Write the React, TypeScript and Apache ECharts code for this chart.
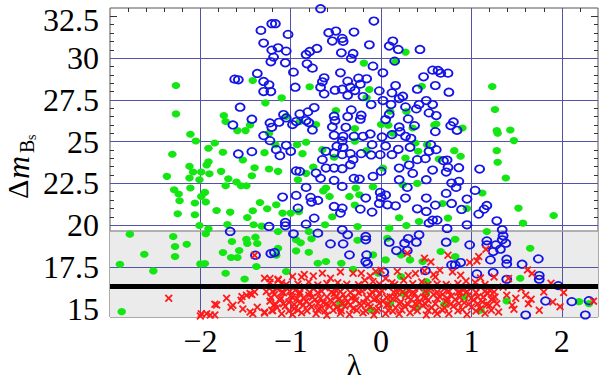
import React, { useEffect, useRef } from "react";
import * as echarts from "echarts";

// ---------- data ----------
const X_MIN = -3;
const X_MAX = 2.4;
const Y_MIN = 14.5;
const Y_MAX = 33;

const X_LABELS = [-2, -1, 0, 1, 2];
const X_MINOR = [-2.8, -2.6, -2.4, -2.2, -2, -1.8, -1.6, -1.4, -1.2, -1, -0.8, -0.6, -0.4, -0.2, 0, 0.2, 0.4, 0.6, 0.8, 1, 1.2, 1.4, 1.6, 1.8, 2, 2.2];
const Y_LABELS = [15, 17.5, 20, 22.5, 25, 27.5, 30, 32.5];
const Y_MINOR = [15, 15.5, 16, 16.5, 17, 17.5, 18, 18.5, 19, 19.5, 20, 20.5, 21, 21.5, 22, 22.5, 23, 23.5, 24, 24.5, 25, 25.5, 26, 26.5, 27, 27.5, 28, 28.5, 29, 29.5, 30, 30.5, 31, 31.5, 32, 32.5];
const X_GRID = [-2, -1, 0, 1, 2];
const Y_GRID = [17.5, 20, 22.5, 25, 27.5, 30];
const BAND = [14.5, 19.65];
const LIMIT = 16.32;

const GREEN: [number, number][] = [
  [-2.27, 28.36], [-2.27, 26.66], [-2.11, 25.44], [-2.05, 25.04], [-2.31, 24.24], [-1.91, 24.6], [-1.84, 24.92],
  [-1.75, 24.36], [-1.91, 23.8], [-1.74, 26.56], [-1.72, 26.2], [-1.59, 25.66], [-1.5, 25.66], [-1.45, 26.0],
  [-1.42, 28.66], [-1.28, 27.32], [-1.29, 24.34], [-1.53, 23.9], [-1.24, 25.5],
  [0.27, 30.36], [-0.19, 29.7], [0.16, 29.78], [-0.79, 28.28], [-1.1, 27.62], [-0.13, 28.12], [-0.16, 27.62],
  [0.45, 28.32], [-0.5, 26.86], [-1.05, 26.5], [-0.72, 26.02], [-0.9, 26.2], [-0.29, 25.78], [0.0, 26.02],
  [0.08, 25.98], [0.1, 26.82], [0.28, 26.8], [0.35, 25.82], [0.59, 26.0], [0.13, 25.5], [-0.29, 25.02],
  [-0.16, 24.46], [-0.52, 24.06], [-0.65, 24.52], [-0.87, 24.28], [-0.93, 24.82], [-0.83, 24.96], [-1.17, 24.82],
  [0.51, 24.82], [0.38, 24.92], [0.41, 24.42], [0.27, 24.02],
  [1.23, 28.3], [1.26, 26.92], [1.28, 25.66], [1.29, 25.5], [1.43, 25.7], [1.47, 25.06], [1.28, 24.46],
  [1.29, 23.76], [0.9, 25.82], [0.61, 26.06], [0.81, 24.46], [0.88, 24.12], [0.64, 23.96],
  [-2.12, 23.52], [-1.93, 23.6], [-2.37, 22.92], [-2.08, 23.18], [-1.99, 23.18], [-1.9, 23.08], [-1.77, 23.22],
  [-2.12, 22.82], [-2.01, 22.72], [-1.69, 22.78], [-1.72, 22.36], [-1.6, 22.58], [-1.55, 22.36], [-1.49, 22.36],
  [-1.43, 22.96], [-1.4, 23.44], [-1.24, 23.36], [-2.29, 22.12], [-2.24, 21.86], [-2.11, 22.22], [-1.95, 21.96],
  [-1.99, 21.72], [-2.23, 21.46], [-2.06, 21.32], [-1.94, 21.38], [-2.25, 20.68], [-2.06, 20.62], [-1.82, 20.88],
  [-1.67, 20.78], [-1.48, 20.46], [-1.42, 20.86], [-1.34, 21.36], [-1.26, 20.98], [-2.01, 19.98], [-1.91, 19.78],
  [-1.94, 19.48], [-1.7, 20.04], [-1.41, 20.02], [-1.32, 19.94], [-2.78, 19.46], [-2.3, 19.32], [-2.28, 18.72],
  [-2.15, 18.86], [-2.62, 18.26], [-2.28, 18.12], [-2.89, 17.66], [-2.52, 17.26], [-2.0, 17.68], [-1.95, 17.7],
  [-1.65, 19.02], [-1.49, 19.16], [-1.39, 19.28], [-1.37, 18.9], [-1.57, 18.48], [-1.48, 18.9], [-1.75, 18.36],
  [-1.66, 18.06], [-1.59, 18.06], [-1.38, 17.52], [-1.72, 17.12], [-1.51, 16.78], [-2.87, 14.82],
  [-1.14, 23.22], [-0.83, 23.1], [-0.92, 22.72], [-0.75, 23.48], [-0.61, 22.22], [-0.64, 22.05], [-0.28, 22.22],
  [-0.09, 22.3], [0.02, 23.42], [0.24, 22.42], [0.4, 22.5], [-1.16, 21.22], [-1.09, 20.72], [-1.0, 20.72],
  [-0.91, 20.8], [-0.57, 21.72], [-0.35, 21.72], [-0.24, 21.82], [-0.29, 21.2], [-0.62, 20.02], [-0.54, 20.5],
  [0.09, 19.82], [0.2, 20.44], [0.28, 19.98], [0.42, 20.22], [-0.26, 19.92], [-1.14, 19.62], [-0.94, 19.12],
  [-0.89, 18.94], [-0.8, 19.62], [-0.77, 19.18], [-1.14, 18.62], [-0.94, 18.46], [-0.8, 18.38], [-0.7, 17.72],
  [-0.61, 17.82], [-0.44, 17.72], [-0.26, 19.1], [-0.09, 18.22], [0.05, 17.92], [0.07, 19.22], [0.22, 18.22],
  [0.32, 17.92], [0.46, 17.82], [-1.05, 17.22], [-0.31, 17.36], [-0.03, 17.12], [0.22, 16.92], [0.5, 16.62],
  [-1.16, 18.2],
  [1.38, 22.82], [1.12, 21.92], [1.52, 21.02], [1.57, 20.12], [1.91, 20.58], [1.17, 19.62], [1.65, 18.62],
  [0.82, 19.16], [0.74, 20.42], [0.95, 21.0], [0.68, 21.3], [0.66, 18.42], [0.82, 18.12], [1.54, 16.82],
  [1.1, 14.9], [1.39, 15.46], [2.19, 15.42], [2.3, 15.3],
  [0.1, 15.3], [0.25, 15.9], [0.4, 15.05], [0.5, 16.0], [0.7, 15.25], [0.92, 15.7], [-0.45, 15.3], [-0.1, 14.9]
];

const BLUE: [number, number][] = [
  [-1.33, 31.66], [-1.3, 30.9], [-1.21, 32.06], [-1.21, 30.48], [-1.22, 29.78], [-1.37, 29.08], [-1.62, 28.74],
  [-1.58, 28.7], [-1.3, 28.6], [-1.24, 28.4], [-1.3, 28.0], [-1.22, 28.0], [-1.56, 27.06], [-1.43, 26.34],
  [-1.64, 26.0], [-1.23, 26.12], [-1.21, 25.86], [-1.3, 25.36], [-1.23, 25.06], [-1.58, 24.26], [-1.43, 24.4],
  [-0.67, 32.96], [-1.17, 32.06], [-1.03, 31.42], [-1.14, 30.62], [-1.05, 30.42], [-1.19, 30.06], [-1.06, 29.72],
  [-0.83, 30.22], [-0.79, 30.4], [-0.71, 30.58], [-0.82, 29.66], [-0.76, 29.4], [-0.97, 29.16], [-0.58, 31.52],
  [-0.54, 31.02], [-0.5, 31.62], [-0.43, 31.18], [-0.42, 31.0], [-0.3, 31.56], [-0.44, 30.32], [-0.31, 30.28],
  [-0.33, 29.98], [-0.13, 30.8], [-0.08, 32.22], [0.13, 31.02], [0.09, 30.72], [0.19, 30.52], [0.43, 30.52],
  [0.15, 29.82], [-0.09, 29.52], [0.02, 29.12], [-0.45, 29.12], [-0.63, 28.82], [-0.65, 28.58], [-0.67, 28.26],
  [-0.63, 27.86], [-0.51, 28.08], [-0.43, 28.14], [-0.37, 28.62], [-0.34, 28.26], [-0.37, 27.78], [-0.25, 28.8],
  [-0.16, 28.76], [-0.23, 28.44], [-0.29, 28.06], [-0.2, 27.7], [-0.95, 28.26], [-0.02, 28.04], [0.02, 27.46],
  [-0.11, 27.22], [0.12, 27.92], [0.16, 28.36], [0.2, 27.58], [0.24, 27.72], [0.11, 27.22], [0.27, 27.08],
  [0.4, 28.14], [0.47, 28.88], [0.57, 29.28], [0.5, 27.46], [0.42, 27.22], [0.57, 27.22], [0.53, 26.72],
  [0.39, 26.96], [0.3, 26.36], [0.09, 26.64], [0.05, 26.32], [-0.33, 26.9], [-0.22, 26.58], [-0.23, 26.34],
  [-0.37, 26.5], [-0.52, 26.52], [-0.51, 26.26], [-0.74, 27.04], [-0.81, 26.78], [-0.9, 26.66], [-0.83, 26.26],
  [-0.8, 26.14], [-1.08, 26.62], [-1.05, 26.42], [-1.13, 26.16], [-0.98, 26.02], [-0.94, 26.2], [-0.76, 25.7],
  [-0.54, 25.88], [-0.39, 25.86], [-0.52, 25.38], [-0.42, 25.32], [-0.43, 25.04], [-0.3, 25.32], [-0.2, 25.32],
  [-0.12, 25.46], [-0.1, 24.82], [0.01, 25.28], [0.12, 25.42], [0.2, 25.88], [0.21, 25.6], [0.27, 25.32],
  [0.33, 25.2], [0.37, 25.96], [0.32, 24.66], [0.19, 24.54], [0.12, 24.22], [0.05, 24.74], [-0.01, 24.22],
  [-0.11, 24.2], [-0.22, 24.28], [-0.34, 24.28], [-0.43, 24.22], [-0.52, 24.32], [-0.61, 24.42], [-0.65, 23.92],
  [-0.49, 24.72], [-0.42, 24.66], [-0.31, 23.92], [-1.05, 24.78], [-1.16, 24.52], [-1.12, 24.16], [-1.0, 24.42],
  [0.55, 24.82], [0.53, 24.42], [0.4, 23.92], [0.49, 23.98],
  [0.63, 29.26], [0.66, 29.1], [0.74, 29.1], [0.6, 28.36], [0.75, 27.96], [0.61, 26.56], [0.8, 26.18],
  [0.77, 25.96], [0.84, 25.68], [0.6, 25.6], [0.61, 24.52], [0.73, 23.9], [0.69, 23.86],
  [-1.67, 19.62], [-1.39, 18.2], [-1.24, 19.92], [-1.22, 18.3],
  [-0.9, 23.22], [-0.94, 23.25], [-0.72, 23.12], [-0.67, 22.8], [-0.61, 23.42], [-0.52, 23.42], [-0.52, 22.68],
  [-0.43, 23.38], [-0.34, 23.62], [-0.24, 22.76], [-0.3, 22.8], [-0.09, 22.92], [0.0, 23.22], [0.2, 23.42],
  [0.31, 23.6], [0.2, 22.72], [0.35, 23.1], [0.5, 22.72], [0.57, 23.3], [-0.43, 22.32], [-0.83, 22.26],
  [-1.09, 21.68], [-0.94, 21.78], [-0.78, 21.66], [-0.77, 21.38], [-0.7, 21.48], [-0.92, 21.02], [-0.74, 20.42],
  [-0.83, 20.06], [-0.52, 21.12], [-0.43, 21.02], [-0.45, 20.72], [-0.23, 20.96], [-0.17, 21.62], [-0.1, 20.78],
  [0.0, 21.66], [-0.01, 21.96], [0.05, 21.8], [0.07, 21.22], [0.16, 21.16], [-0.02, 21.3], [0.27, 21.62],
  [0.29, 22.26], [0.5, 21.62], [0.4, 20.98], [0.5, 20.82], [0.53, 20.12], [0.57, 20.3], [-1.06, 20.16],
  [-1.06, 19.96], [-0.97, 19.48], [-0.7, 19.52], [-0.56, 18.88], [-0.43, 19.72], [-0.37, 19.42], [-0.42, 18.88],
  [-0.17, 19.32], [-0.17, 19.12], [0.09, 18.98], [-0.35, 18.22], [-0.16, 18.22], [-0.17, 17.82], [-0.15, 17.68],
  [0.03, 17.18], [-1.18, 18.36], [0.17, 18.48], [0.26, 18.92], [0.3, 19.2], [0.39, 18.98], [0.42, 19.42],
  [0.29, 18.48], [0.49, 17.28],
  [0.86, 23.44], [0.74, 23.46], [1.09, 23.36], [0.72, 23.18], [0.86, 22.62], [0.78, 22.52], [0.83, 22.26],
  [1.04, 22.08], [0.72, 21.9], [0.95, 21.56], [0.78, 21.3], [0.6, 21.2], [0.89, 20.94], [1.17, 21.18],
  [1.14, 20.96], [1.08, 20.66], [0.62, 20.3], [0.95, 20.02], [0.73, 19.8], [1.28, 20.26], [1.34, 19.72],
  [1.35, 19.36], [1.34, 19.12], [1.38, 18.92], [1.17, 19.06], [1.27, 18.82], [1.17, 18.82], [1.24, 18.42],
  [1.32, 18.56], [1.21, 17.92], [0.98, 18.82], [0.72, 18.98], [0.88, 17.76], [0.78, 17.62], [0.82, 17.62],
  [1.39, 17.96], [1.39, 17.68], [1.56, 17.66], [1.74, 17.98], [1.06, 17.08], [1.24, 17.16], [1.39, 16.76],
  [1.75, 16.98], [1.75, 16.76], [1.96, 16.38], [2.11, 15.42], [2.3, 15.48], [2.26, 14.62], [1.82, 15.46],
  [1.6, 14.62]
];

const RED: [number, number][] = [
  [-2.35, 15.62], [-2.0, 14.56], [-1.89, 14.62], [-1.84, 14.62], [-1.99, 14.7], [-1.93, 14.7], [-1.84, 15.26],
  [-1.82, 15.22], [-1.71, 15.62], [-1.66, 15.08], [-1.64, 15.2], [-1.55, 15.5], [-1.54, 15.72], [-1.53, 14.98],
  [-1.49, 15.8], [-1.45, 14.8], [-1.45, 15.9], [-1.43, 15.84], [-1.42, 14.7], [-1.4, 16.0], [-1.37, 15.08],
  [-1.29, 14.8], [-1.29, 14.74], [-1.29, 16.82], [-1.27, 16.02], [-1.23, 16.56], [-1.23, 16.8], [-1.23, 15.45],
  [-1.21, 14.9], [-1.19, 15.2], [-1.4, 18.2], [-1.14, 16.7], [-1.14, 16.76],
  [-1.15, 16.2], [-1.05, 16.25], [-0.95, 16.1], [-0.85, 16.3], [-0.75, 16.2], [-0.62, 16.25], [-0.5, 16.1],
  [-0.4, 16.3], [-0.28, 16.2], [-0.15, 16.25], [-0.05, 16.15], [0.08, 16.3], [0.2, 16.2], [0.3, 16.1],
  [0.42, 16.25], [0.55, 16.2],
  [-1.1, 16.55], [-0.98, 16.92], [-0.88, 16.9], [-0.8, 16.6], [-0.65, 17.12], [-0.56, 16.82], [-0.48, 16.55],
  [-0.31, 17.12], [-0.22, 17.12], [-0.18, 16.7], [-0.09, 16.62], [-0.06, 17.22], [0.05, 16.8], [0.18, 17.22],
  [0.12, 16.55], [0.25, 16.7], [0.38, 17.1], [0.45, 16.6], [0.29, 18.32], [0.48, 18.02], [0.55, 17.8], [0.6, 16.9],
  [-1.18, 15.85], [-1.08, 15.95], [-1.0, 15.75], [-0.9, 15.9], [-0.8, 15.8], [-0.7, 15.95], [-0.6, 15.7],
  [-0.52, 15.9], [-0.42, 15.85], [-0.33, 15.65], [-0.25, 15.95], [-0.12, 15.8], [-0.02, 15.9], [0.1, 15.7],
  [0.18, 15.95], [0.27, 15.8], [0.37, 15.9], [0.47, 15.7], [0.58, 15.85],
  [-1.12, 15.5], [-1.02, 15.4], [-0.93, 15.6], [-0.83, 15.45], [-0.73, 15.55], [-0.64, 15.35], [-0.56, 15.5],
  [-0.46, 15.6], [-0.37, 15.4], [-0.28, 15.5], [-0.19, 15.35], [-0.08, 15.55], [0.02, 15.45], [0.13, 15.6],
  [0.22, 15.4], [0.33, 15.55], [0.42, 15.35], [0.52, 15.5], [0.62, 15.6],
  [-1.15, 15.05], [-1.06, 15.15], [-0.96, 15.0], [-0.86, 15.2], [-0.77, 15.1], [-0.68, 15.0], [-0.58, 15.2],
  [-0.49, 15.05], [-0.4, 15.15], [-0.31, 15.0], [-0.22, 15.2], [-0.12, 15.1], [-0.03, 15.0], [0.06, 15.2],
  [0.16, 15.05], [0.26, 15.15], [0.36, 15.0], [0.46, 15.2], [0.56, 15.05],
  [-1.1, 14.7], [-0.98, 14.65], [-0.88, 14.75], [-0.72, 14.7], [-0.6, 14.6], [-0.45, 14.72], [-0.35, 14.65],
  [-0.2, 14.75], [-0.08, 14.62], [0.05, 14.7], [0.2, 14.68], [0.32, 14.75], [0.5, 14.62], [0.62, 14.7],
  [0.65, 17.3], [0.74, 18.2], [0.79, 17.2], [0.94, 16.66], [0.98, 17.76], [1.04, 16.56], [1.06, 17.86],
  [1.08, 18.12], [1.1, 16.84], [1.16, 18.56], [0.7, 16.2], [0.8, 16.3], [0.9, 16.15], [1.0, 16.25], [1.1, 16.3],
  [1.2, 16.1], [0.68, 15.85], [0.78, 15.75], [0.88, 15.95], [0.97, 15.8], [1.07, 15.7], [1.18, 15.9],
  [1.26, 15.7], [0.72, 15.45], [0.82, 15.55], [0.92, 15.35], [1.02, 15.5], [1.12, 15.4], [1.22, 15.55],
  [0.7, 15.05], [0.8, 15.15], [0.9, 14.95], [1.0, 15.1], [1.1, 15.0], [1.2, 15.2], [0.75, 14.7], [0.95, 14.65],
  [1.15, 14.72], [1.3, 14.8],
  [1.41, 16.8], [1.39, 15.8], [1.49, 15.62], [1.47, 14.96], [1.6, 15.8], [1.62, 17.32], [1.63, 15.3],
  [1.66, 15.56], [1.67, 17.1], [1.75, 14.9], [1.88, 16.52], [1.9, 15.4], [1.98, 15.12], [2.02, 15.96],
  [1.35, 16.3], [1.55, 16.2], [1.8, 16.0], [1.45, 15.2], [2.35, 15.45],
  [-1.2, 16.02], [-1.1, 15.98], [-1.01, 16.04], [-0.9, 16.0], [-0.79, 15.97], [-0.66, 16.05], [-0.55, 15.99],
  [-0.45, 16.03], [-0.34, 15.96], [-0.21, 16.04], [-0.1, 16.0], [0.01, 16.06], [0.14, 15.98], [0.24, 16.03],
  [0.35, 15.97], [0.49, 16.04], [0.62, 16.0], [0.75, 16.05], [0.85, 15.98], [0.95, 16.03], [1.05, 15.96],
  [1.15, 16.05], [1.25, 16.0],
  [-1.22, 15.66], [-1.11, 15.63], [-0.98, 15.7], [-0.86, 15.64], [-0.76, 15.68], [-0.67, 15.62], [-0.5, 15.69],
  [-0.4, 15.63], [-0.29, 15.7], [-0.16, 15.65], [-0.05, 15.62], [0.06, 15.68], [0.17, 15.64], [0.3, 15.7],
  [0.4, 15.62], [0.5, 15.66], [0.65, 15.7], [0.73, 15.63], [0.87, 15.68], [1.0, 15.64], [1.13, 15.69],
  [1.24, 15.62],
  [-1.17, 15.28], [-1.08, 15.3], [-0.96, 15.25], [-0.9, 15.32], [-0.79, 15.27], [-0.7, 15.3], [-0.61, 15.26],
  [-0.52, 15.31], [-0.43, 15.28], [-0.34, 15.24], [-0.24, 15.3], [-0.14, 15.27], [-0.02, 15.32], [0.08, 15.26],
  [0.2, 15.29], [0.3, 15.25], [0.38, 15.31], [0.49, 15.28], [0.6, 15.3], [0.77, 15.26], [0.86, 15.31],
  [0.97, 15.27], [1.07, 15.29], [1.17, 15.24], [1.28, 15.3],
  [-1.2, 14.88], [-1.02, 14.86], [-0.92, 14.9], [-0.82, 14.87], [-0.7, 14.92], [-0.62, 14.86], [-0.53, 14.9],
  [-0.44, 14.88], [-0.27, 14.91], [-0.17, 14.86], [-0.05, 14.89], [0.08, 14.9], [0.13, 14.85], [0.23, 14.92],
  [0.4, 14.87], [0.52, 14.9], [0.6, 14.86], [0.68, 14.91], [0.85, 14.88], [1.05, 14.86], [1.22, 14.9],
  [-1.05, 16.45], [-0.92, 16.48], [-0.7, 16.42], [-0.6, 16.5], [-0.38, 16.46], [-0.25, 16.43], [-0.02, 16.48],
  [0.15, 16.44], [0.35, 16.49], [0.52, 16.43], [0.62, 16.47], [0.72, 16.44], [0.85, 16.5], [1.15, 16.45],
  [-0.85, 17.05], [-0.75, 16.95], [-0.45, 17.2], [-0.12, 16.95], [0.0, 17.3], [0.3, 16.98], [0.48, 17.25],
  [0.58, 17.05], [0.88, 17.0], [1.25, 16.9]
];

const SERIF = "'Liberation Serif', 'Times New Roman', serif";
const CROSS = "path://M0,1.6L1.6,0L5,3.4L8.4,0L10,1.6L6.6,5L10,8.4L8.4,10L5,6.6L1.6,10L0,8.4L3.4,5Z";

const fmt = (v: number) => (v < 0 ? "\u2212" + Math.abs(v) : String(v));
const fmtY = (v: number) => (v === Y_LABELS[Y_LABELS.length - 1] ? `{top|${fmt(v)}}` : fmt(v));

export default function App() {
  const ref = useRef<HTMLDivElement>(null);
  useEffect(() => {
    if (!ref.current) return;
    const chart = echarts.init(ref.current, null, { renderer: "svg" });
    const gridRect = { left: 110, right: 1, top: 8, bottom: 65 };
    const tickColor = "#333";
    const noLine = { show: false, onZero: false };
    const xBase = { type: "value", min: X_MIN, max: X_MAX, splitLine: { show: false }, axisLine: noLine };
    const yBase = { type: "value", min: Y_MIN, max: Y_MAX, splitLine: { show: false }, axisLine: noLine };
    const option: any = {
      animation: false,
      backgroundColor: "#fff",
      grid: [
        { ...gridRect, show: true, borderColor: "#555", borderWidth: 1, backgroundColor: "transparent" },
        { ...gridRect, show: false },
      ],
      xAxis: [
        {
          ...xBase, gridIndex: 0, position: "bottom",
          axisTick: { inside: true, length: 7, customValues: X_LABELS, lineStyle: { color: tickColor } },
          axisLabel: { customValues: X_LABELS, formatter: fmt, fontFamily: "Liberation Serif", fontSize: 32, color: "#000", margin: 8 },
        },
        {
          ...xBase, gridIndex: 0, position: "top",
          axisTick: { inside: true, length: 7, customValues: X_LABELS, lineStyle: { color: tickColor } },
          axisLabel: { show: false },
        },
        {
          ...xBase, gridIndex: 1, position: "bottom",
          axisTick: { inside: true, length: 4, customValues: X_MINOR, lineStyle: { color: tickColor } },
          axisLabel: { show: false },
        },
        {
          ...xBase, gridIndex: 1, position: "top",
          axisTick: { inside: true, length: 4, customValues: X_MINOR, lineStyle: { color: tickColor } },
          axisLabel: { show: false },
        },
      ],
      yAxis: [
        {
          ...yBase, gridIndex: 0, position: "left",
          axisTick: { inside: true, length: 7, customValues: Y_LABELS, lineStyle: { color: tickColor } },
          axisLabel: {
            customValues: Y_LABELS, formatter: fmtY, fontFamily: "Liberation Serif", fontSize: 32, color: "#000", margin: 11,
            rich: { top: { fontFamily: "Liberation Serif", fontSize: 32, color: "#000", padding: [8, 0, 0, 0] } },
          },
        },
        {
          ...yBase, gridIndex: 0, position: "right",
          axisTick: { inside: true, length: 7, customValues: Y_LABELS, lineStyle: { color: tickColor } },
          axisLabel: { show: false },
        },
        {
          ...yBase, gridIndex: 1, position: "left",
          axisTick: { inside: true, length: 4, customValues: Y_MINOR, lineStyle: { color: tickColor } },
          axisLabel: { show: false },
        },
        {
          ...yBase, gridIndex: 1, position: "right",
          axisTick: { inside: true, length: 4, customValues: Y_MINOR, lineStyle: { color: tickColor } },
          axisLabel: { show: false },
        },
      ],
      series: [
        {
          type: "scatter", xAxisIndex: 0, yAxisIndex: 0, data: [], z: 1, silent: true,
          markArea: {
            z: 1, silent: true,
            itemStyle: { color: "#ebebeb" },
            label: { show: false },
            data: [[{ yAxis: BAND[0] }, { yAxis: BAND[1] }]],
          },
          markLine: {
            z: 1.5, silent: true, symbol: "none", label: { show: false },
            lineStyle: { color: "#5252a8", width: 1, type: "solid" },
            emphasis: { disabled: true },
            data: [
              ...X_GRID.map((v) => ({ xAxis: v })),
              ...Y_GRID.map((v) => ({ yAxis: v })),
              { yAxis: BAND[1], lineStyle: { color: "#9a9a9a", width: 1.5, type: "solid" } },
            ],
          },
        },
        {
          type: "scatter", xAxisIndex: 0, yAxisIndex: 0, z: 2, data: GREEN,
          symbol: "circle", symbolSize: [8.5, 7],
          itemStyle: { color: "#14e614", opacity: 1 },
        },
        {
          type: "scatter", xAxisIndex: 0, yAxisIndex: 0, z: 3, data: BLUE,
          symbol: "circle", symbolSize: [9, 7.5],
          itemStyle: { color: "rgba(0,0,0,0)", borderColor: "#1414e6", borderWidth: 1.8, opacity: 1 },
        },
        {
          type: "scatter", xAxisIndex: 0, yAxisIndex: 0, z: 4, data: RED,
          symbol: CROSS, symbolSize: 8,
          itemStyle: { color: "#ff1a1a", opacity: 1 },
        },
        {
          type: "scatter", xAxisIndex: 0, yAxisIndex: 0, data: [], z: 10, silent: true,
          markLine: {
            z: 10, silent: true, symbol: "none", label: { show: false },
            lineStyle: { color: "#000", width: 5, type: "solid" },
            data: [{ yAxis: LIMIT }],
          },
        },
      ],
      graphic: [
        {
          type: "text", x: 354, y: 364, silent: true,
          style: { text: "λ", font: `30px ${SERIF}`, fill: "#000", align: "center", verticalAlign: "middle" },
        },
        {
          type: "group", x: 0, y: 165, rotation: Math.PI / 2, silent: true,
          children: [
            { type: "text", x: -34, y: 17, style: { text: "Δ", font: `30px ${SERIF}`, fill: "#000", verticalAlign: "middle", align: "left" } },
            { type: "text", x: -14, y: 18, style: { text: "m", font: `italic 32px ${SERIF}`, fill: "#000", verticalAlign: "middle", align: "left" } },
            { type: "text", x: 12, y: 27, style: { text: "B", font: `20px ${SERIF}`, fill: "#000", verticalAlign: "middle", align: "left" } },
            { type: "text", x: 25, y: 31, style: { text: "s", font: `14px ${SERIF}`, fill: "#000", verticalAlign: "middle", align: "left" } },
          ],
        },
      ],
    };
    chart.setOption(option);
    return () => chart.dispose();
  }, []);
  return <div ref={ref} style={{ position: "fixed", left: 0, top: 0, width: 599, height: 382 }} />;
}
